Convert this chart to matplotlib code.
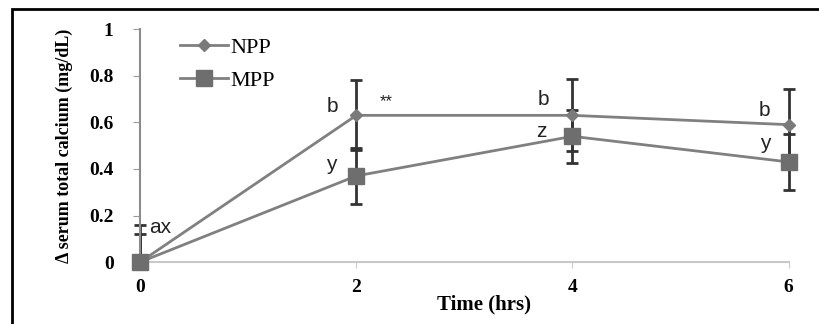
import matplotlib.pyplot as plt
from matplotlib.patches import Rectangle

hours = [0, 2, 4, 6]
npp = [0.0, 0.63, 0.63, 0.59]
npp_err_lo = [0.0, 0.15, 0.155, 0.155]
npp_err_hi = [0.16, 0.15, 0.155, 0.155]
mpp = [0.0, 0.37, 0.54, 0.43]
mpp_err_lo = [0.0, 0.12, 0.115, 0.12]
mpp_err_hi = [0.12, 0.12, 0.115, 0.12]

# significance letters: (x, y, text)
letters = [(0.08, 0.15, 'ax'), (1.78, 0.67, 'b'), (2.28, 0.69, '**'),
           (1.77, 0.42, 'y'), (3.73, 0.70, 'b'), (3.71, 0.56, 'z'),
           (5.78, 0.65, 'b'), (5.78, 0.51, 'y')]

serif = 'Liberation Serif'
sans = 'Liberation Sans'

fig = plt.figure(figsize=(8.19, 3.24), dpi=100)
ax = fig.add_axes([0.171, 0.191, 0.792, 0.719])

line_col = '#808080'
err_col = '#333333'

ax.errorbar(hours, npp, yerr=[npp_err_lo, npp_err_hi], fmt='none',
            ecolor=err_col, elinewidth=2, capsize=4.5, capthick=2,
            clip_on=False, zorder=2)
ax.errorbar(hours, mpp, yerr=[mpp_err_lo, mpp_err_hi], fmt='none',
            ecolor=err_col, elinewidth=2, capsize=4.5, capthick=2,
            clip_on=False, zorder=2)
ax.plot(hours, npp, color=line_col, lw=2, marker='D', ms=6,
        mfc='#7a7a7a', mec='#7a7a7a', label='NPP', clip_on=False, zorder=3)
ax.plot(hours, mpp, color=line_col, lw=2, marker='s', ms=12,
        mfc='#6e6e6e', mec='#6e6e6e', label='MPP', clip_on=False, zorder=3)

for x, y, t in letters:
    ax.text(x, y, t, fontsize=15 if t != '**' else 12, family=sans,
            color='#222222', ha='left' if t == 'ax' else 'center', va='center')

ax.set_xlim(0, 6)
ax.set_ylim(0, 1)
ax.set_xticks(hours)
ax.set_xticklabels([str(h) for h in hours], family=serif,
                   fontweight='bold', fontsize=14)
ax.set_yticks([0, 0.2, 0.4, 0.6, 0.8, 1])
ax.set_yticklabels(['0', '0.2', '0.4', '0.6', '0.8', '1'], family=serif,
                   fontweight='bold', fontsize=14)
ax.tick_params(axis='y', length=5, color='#999999', pad=14)
ax.tick_params(axis='x', length=4, color='#cccccc', pad=8)

for s in ['top', 'right']:
    ax.spines[s].set_visible(False)
ax.spines['left'].set_color('#8c8c8c')
ax.spines['left'].set_linewidth(1.5)
ax.spines['bottom'].set_color('#c8c8c8')
ax.spines['bottom'].set_linewidth(1.5)

ax.set_xlabel('Time (hrs)', family=serif, fontweight='bold', fontsize=15)
ax.xaxis.set_label_coords(0.53, -0.14)
ax.set_ylabel('\u0394 serum total calcium (mg/dL)', family=serif,
              fontweight='bold', fontsize=13)
ax.yaxis.set_label_coords(-0.103, 0.5)

leg = ax.legend(loc='upper left', bbox_to_anchor=(0.03, 1.05), frameon=False,
                prop={'family': serif, 'size': 16}, handlelength=2.2,
                handletextpad=0.1, labelspacing=0.55)

# outer black frame, cut off at right and bottom like the source
fig.patches.append(Rectangle((12 / 819, -0.05), 1.2, 1 - 9 / 324 + 0.05,
                             transform=fig.transFigure, fill=False,
                             edgecolor='black', lw=2))

fig.savefig('out.png', dpi=100)
